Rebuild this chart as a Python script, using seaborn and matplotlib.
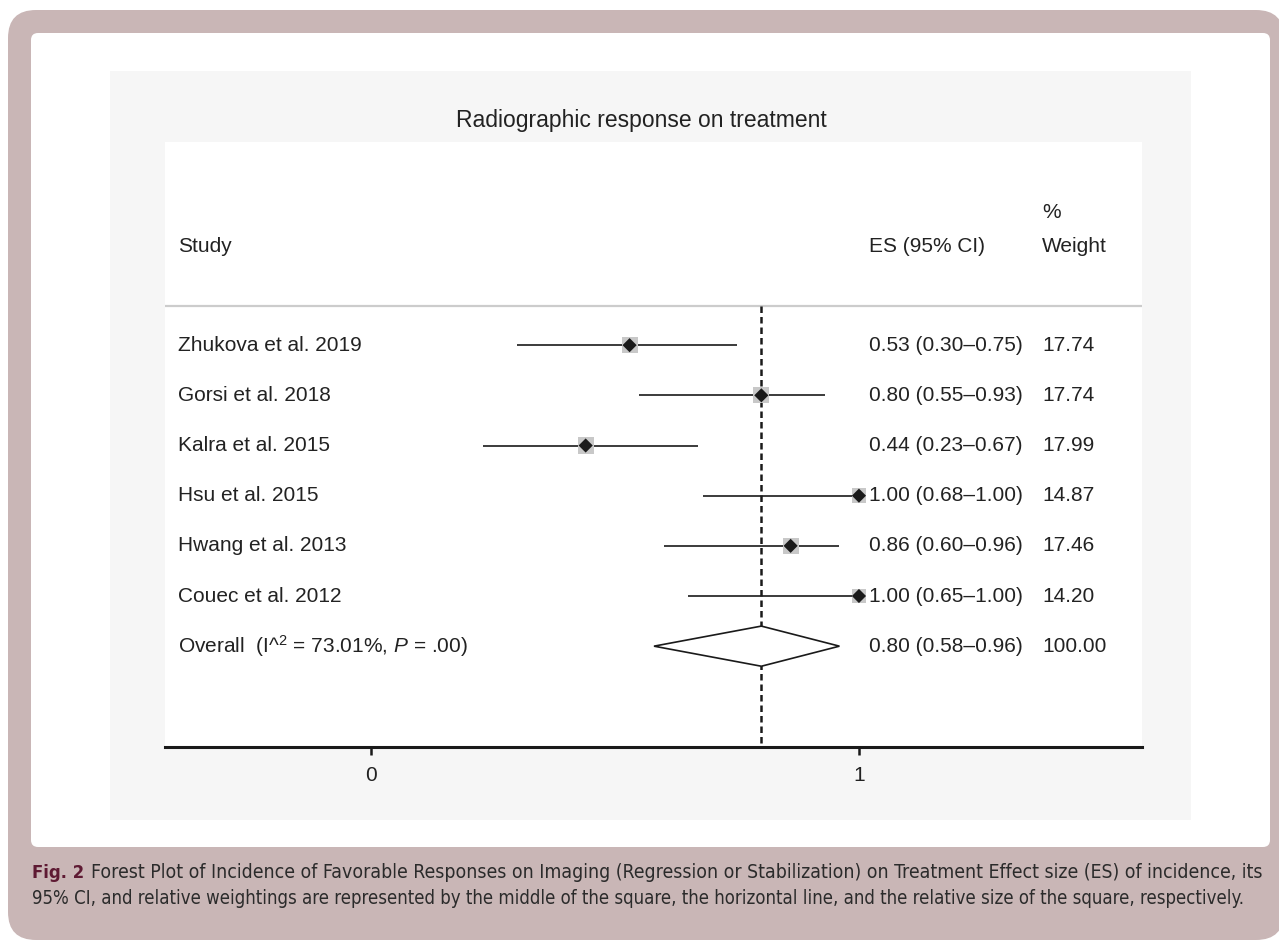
import numpy as np
import pandas as pd
import matplotlib
matplotlib.use("Agg")
import matplotlib.pyplot as plt
from matplotlib.patches import FancyBboxPatch, Polygon
import seaborn as sns

studies = ["Zhukova et al. 2019", "Gorsi et al. 2018", "Kalra et al. 2015",
           "Hsu et al. 2015", "Hwang et al. 2013", "Couec et al. 2012"]
es = [0.53, 0.80, 0.44, 1.00, 0.86, 1.00]
ci_low = [0.30, 0.55, 0.23, 0.68, 0.60, 0.65]
ci_high = [0.75, 0.93, 0.67, 1.00, 0.96, 1.00]
weights = [17.74, 17.74, 17.99, 14.87, 17.46, 14.20]

overall_es = 0.80
overall_low = 0.58
overall_high = 0.96
overall_label = r"Overall  (I^$^{2}$ = 73.01%, $\it{P}$ = .00)"

xticks = [0, 1]

sns.set_style("white")
plt.rcParams["font.family"] = ["Liberation Sans", "DejaVu Sans"]
plt.rcParams["mathtext.fontset"] = "custom"
plt.rcParams["mathtext.rm"] = "Liberation Sans"
plt.rcParams["mathtext.it"] = "Liberation Sans:italic"

W, H = 1279, 941
fig = plt.figure(figsize=(W / 100, H / 100), dpi=100)
fig.patch.set_facecolor("white")
tr = fig.dpi_scale_trans


def box(x0, y0, x1, y1, color, r=0.0):
    # pixel coords from top-left -> inches from bottom-left
    p = FancyBboxPatch((x0 / 100, (H - y1) / 100), (x1 - x0) / 100, (y1 - y0) / 100,
                       boxstyle=f"round,pad=0,rounding_size={r}" if r else "square,pad=0",
                       transform=tr, facecolor=color, edgecolor="none", zorder=-10)
    fig.patches.append(p)


box(8, 10, 1284, 940, "#c9b6b6", 0.28)
box(31, 33, 1270, 847, "white", 0.07)
box(110, 71, 1191, 820, "#f6f6f6")

ax = fig.add_axes([165 / W, 1 - 747 / H, 977 / W, 605 / H])
ax.set_zorder(1)
ax.set_facecolor("white")

rows = np.arange(len(studies))
df = pd.DataFrame({"study": studies, "es": es, "lo": ci_low, "hi": ci_high,
                   "weight": weights, "row": rows})

# confidence intervals
ax.hlines(df["row"], df["lo"], df["hi"], color="#1a1a1a", lw=1.2, zorder=2)

# weight squares
k = 7.6
sns.scatterplot(data=df, x="es", y="row", size="weight",
                sizes=(k * min(weights), k * max(weights)),
                size_norm=(min(weights), max(weights)),
                marker="s", color="#c8c8c8", edgecolor="none",
                legend=False, ax=ax, zorder=3)
# point estimates
sns.scatterplot(data=df, x="es", y="row", marker="D", s=52, color="#1a1a1a",
                edgecolor="none", legend=False, ax=ax, zorder=4)

# overall diamond
yo = len(studies)
h = 0.4
ax.add_patch(Polygon([(overall_low, yo), (overall_es, yo - h), (overall_high, yo),
                      (overall_es, yo + h)], closed=True, facecolor="white",
                     edgecolor="#1a1a1a", lw=1.2, zorder=3))

# header separator and reference line
sep_y = -0.78
ax.axhline(sep_y, color="#cccccc", lw=1.6, zorder=1)
ax.vlines(overall_es, sep_y, 8.01, colors="#1a1a1a", linestyles=(0, (2.6, 1.6)),
          lw=1.8, zorder=1)

fs = 15
txt_col = "#222222"
x_study, x_es, x_w = -0.3955, 1.0205, 1.375
ax.text(x_study, -1.97, "Study", fontsize=fs, va="center", color=txt_col)
ax.text(x_es, -1.97, "ES (95% CI)", fontsize=fs, va="center", color=txt_col)
ax.text(x_w, -2.65, "%", fontsize=fs, va="center", color=txt_col)
ax.text(x_w, -1.97, "Weight", fontsize=fs, va="center", color=txt_col)

for i in range(len(studies)):
    ax.text(x_study, i, studies[i], fontsize=fs, va="center", color=txt_col)
    ax.text(x_es, i, f"{es[i]:.2f} ({ci_low[i]:.2f}\u2013{ci_high[i]:.2f})",
            fontsize=fs, va="center", color=txt_col)
    ax.text(x_w, i, f"{weights[i]:.2f}", fontsize=fs, va="center", color=txt_col)

ax.text(x_study, yo, overall_label, fontsize=fs, va="center", color=txt_col)
ax.text(x_es, yo, f"{overall_es:.2f} ({overall_low:.2f}\u2013{overall_high:.2f})",
        fontsize=fs, va="center", color=txt_col)
ax.text(x_w, yo, "100.00", fontsize=fs, va="center", color=txt_col)

ax.set_xlim(-0.422, 1.580)
ax.set_ylim(8.01, -4.05)
ax.set_yticks([])
ax.set_xticks(xticks)
ax.set_xticklabels([str(t) for t in xticks], fontsize=fs, color=txt_col)
ax.tick_params(axis="x", direction="out", length=6, width=1.8, pad=8,
               color="#1a1a1a", bottom=True)
for s in ["top", "left", "right"]:
    ax.spines[s].set_visible(False)
ax.spines["bottom"].set_color("#1a1a1a")
ax.spines["bottom"].set_linewidth(2.2)
ax.set_xlabel("")
ax.set_ylabel("")

fig.text(641 / W, 1 - 120 / H, "Radiographic response on treatment",
         fontsize=16.5, ha="center", va="center", color=txt_col)

# caption (condensed look: shrink to fit the line widths of the original)
cap_font = ["DejaVu Sans"]
cap1 = ("Forest Plot of Incidence of Favorable Responses on Imaging (Regression or "
        "Stabilization) on Treatment Effect size (ES) of incidence, its")
cap2 = ("95% CI, and relative weightings are represented by the middle of the square, "
        "the horizontal line, and the relative size of the square, respectively.")
t0 = fig.text(32 / W, 1 - 873 / H, "Fig. 2", fontsize=13, fontweight="bold",
              color="#5e1a33", va="center", family=cap_font, fontstretch="condensed")
t1 = fig.text(91 / W, 1 - 873 / H, cap1, fontsize=13, color="#2b2b2b",
              va="center", family=cap_font, fontstretch="condensed")
t2 = fig.text(32 / W, 1 - 899 / H, cap2, fontsize=13, color="#2b2b2b",
              va="center", family=cap_font, fontstretch="condensed")
fig.canvas.draw()
r = fig.canvas.get_renderer()
for t, target in [(t1, 1262 - 91), (t2, 1248 - 32)]:
    w = t.get_window_extent(r).width
    t.set_fontsize(13 * target / w)
t0.set_fontsize(t1.get_fontsize() * 0.95)

fig.savefig("out.png", dpi=100)
